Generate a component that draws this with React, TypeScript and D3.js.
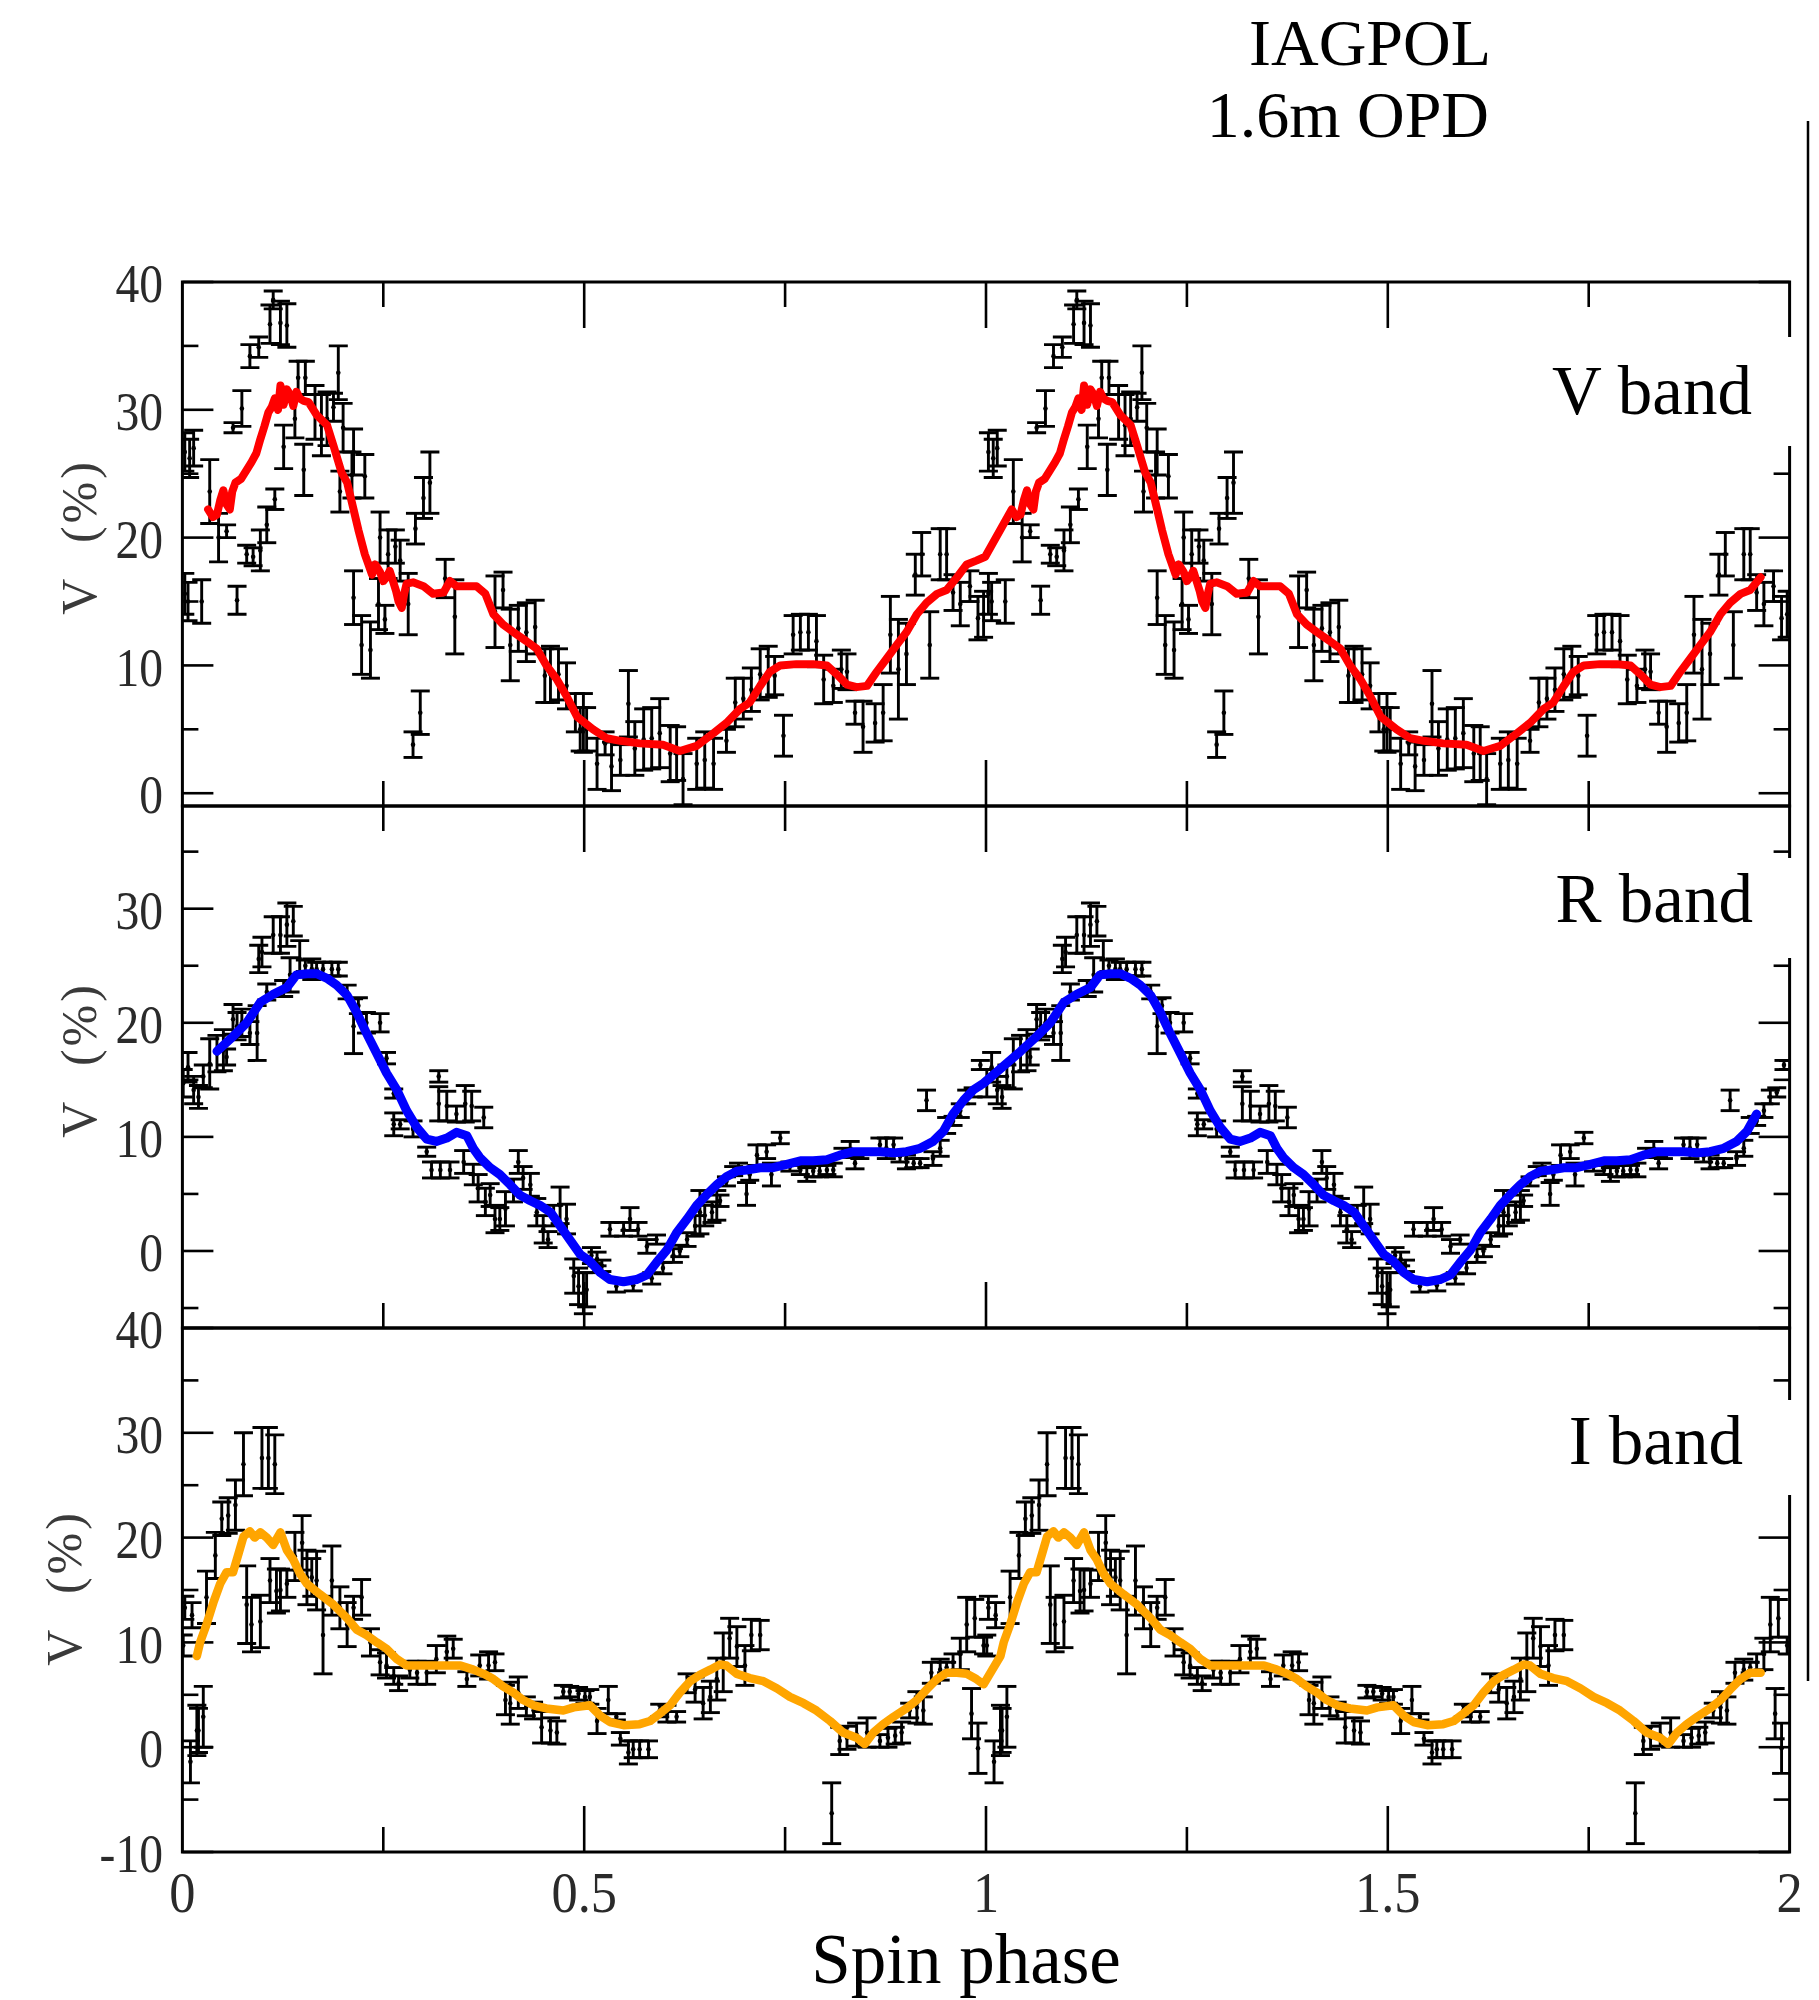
import React from 'react';
import * as d3 from 'd3';

// ---------- DATA (phase, value, error) for one spin cycle; plotted twice ----------
const vBandPoints: [number, number, number][] = [
  [0.003,26.7,1.5],[0.009,26.2,1.5],[0.014,27.0,1.4],[0.003,15.6,1.6],[0.007,15.0,1.5],[0.024,15.0,1.7],
  [0.034,23.6,2.5],[0.045,20.0,1.9],[0.055,20.5,0.5],[0.063,28.6,0.4],[0.068,15.1,1.1],[0.074,30.1,1.4],
  [0.080,18.7,0.7],[0.084,34.2,0.9],[0.088,18.5,0.7],[0.095,34.9,0.8],[0.097,19.0,1.6],[0.105,21.0,1.4],
  [0.109,36.7,1.5],[0.113,38.6,0.7],[0.115,23.0,0.8],[0.122,36.8,1.7],[0.126,27.1,1.7],[0.130,36.6,1.7],
  [0.140,29.3,1.5],[0.144,32.5,1.3],[0.151,25.3,2.0],[0.153,32.5,1.3],[0.165,29.8,2.1],[0.173,28.8,2.4],
  [0.180,29.3,2.1],[0.188,30.2,1.1],[0.194,32.9,2.1],[0.200,28.6,1.9],[0.196,23.6,1.6],[0.213,26.7,1.8],
  [0.211,24.9,1.8],[0.227,24.8,1.7],[0.213,15.3,2.1],[0.223,11.6,2.3],[0.234,11.2,2.2],[0.246,20.0,2.0],
  [0.244,14.8,2.0],[0.252,13.6,1.1],[0.256,18.7,1.9],[0.265,19.3,1.3],[0.271,18.2,1.6],[0.281,14.8,2.4],
  [0.290,20.7,1.2],[0.296,6.3,1.7],[0.287,3.8,1.0],[0.300,23.1,1.6],[0.308,24.3,2.4],[0.327,16.8,1.5],
  [0.339,13.8,2.9],[0.389,14.2,2.8],[0.399,15.9,1.4],[0.408,11.6,2.8],[0.418,12.9,1.8],[0.428,12.6,2.3],
  [0.439,13.0,2.1],[0.451,9.2,2.1],[0.458,9.3,2.2],[0.468,9.3,2.0],[0.478,8.4,1.8],[0.489,6.3,1.5],
  [0.495,5.0,1.7],[0.499,5.5,2.3],[0.503,5.0,1.7],[0.516,2.3,2.0],[0.526,3.9,0.9],[0.534,2.1,1.9],
  [0.545,2.6,1.2],[0.555,7.0,2.6],[0.563,3.5,2.1],[0.574,4.2,2.4],[0.584,4.3,2.4],[0.594,4.7,2.7],
  [0.607,3.1,2.2],[0.615,3.1,2.1],[0.623,1.1,2.0],[0.640,2.3,2.0],[0.650,2.6,2.2],[0.661,2.3,2.0],
  [0.677,4.1,0.9],[0.688,7.1,1.9],[0.698,7.4,1.6],[0.708,8.1,1.7],[0.719,9.3,2.0],[0.729,9.5,2.0],
  [0.737,9.2,1.5],[0.748,4.5,1.6],[0.760,12.4,1.5],[0.769,12.6,1.4],[0.779,12.6,1.4],[0.789,11.9,2.0],
  [0.798,8.9,1.9],[0.810,8.4,1.3],[0.820,9.7,1.5],[0.827,9.5,1.4],[0.837,6.3,0.9],[0.847,5.2,2.0],
  [0.862,5.5,1.5],[0.872,6.3,2.2],[0.881,12.4,3.0],[0.891,9.7,3.9],[0.901,10.9,2.4],[0.930,11.6,2.6],
  [0.912,17.1,1.6],[0.920,18.7,1.7],[0.943,18.7,2.0],[0.951,18.7,2.0],[0.959,15.7,1.4],[0.968,14.8,1.7],
  [0.980,16.2,1.2],[0.990,13.7,1.7],[0.997,14.0,1.8],
];

const vBandCurve: [number, number][] = [
  [0.032,22.2],[0.038,21.6],[0.043,21.8],[0.047,22.9],[0.051,23.7],[0.055,22.6],[0.059,22.2],[0.062,23.6],
  [0.066,24.3],[0.073,24.6],[0.080,25.3],[0.086,25.9],[0.092,26.6],[0.097,27.7],[0.102,28.7],[0.107,29.8],
  [0.111,30.2],[0.115,30.9],[0.119,30.0],[0.122,31.9],[0.126,30.4],[0.130,31.6],[0.134,31.2],[0.138,30.3],
  [0.142,31.4],[0.146,30.9],[0.151,30.7],[0.157,30.6],[0.167,29.6],[0.180,28.8],[0.188,27.2],[0.198,25.1],
  [0.205,24.3],[0.213,22.2],[0.219,20.6],[0.227,18.7],[0.236,17.1],[0.240,17.9],[0.246,17.3],[0.250,16.6],
  [0.254,16.9],[0.258,17.4],[0.263,16.4],[0.266,15.8],[0.269,15.0],[0.273,14.5],[0.276,15.6],[0.279,16.4],
  [0.287,16.5],[0.300,16.2],[0.312,15.6],[0.325,15.7],[0.333,16.6],[0.341,16.2],[0.354,16.2],[0.366,16.2],
  [0.377,15.6],[0.387,14.0],[0.399,13.2],[0.412,12.6],[0.428,11.9],[0.441,11.3],[0.453,10.0],[0.466,8.9],
  [0.478,7.6],[0.491,6.0],[0.511,5.0],[0.528,4.3],[0.545,4.1],[0.569,3.9],[0.598,3.8],[0.619,3.3],
  [0.640,3.7],[0.661,4.7],[0.677,5.5],[0.694,6.6],[0.706,7.1],[0.719,8.4],[0.731,9.5],[0.744,10.0],
  [0.764,10.1],[0.785,10.1],[0.802,10.0],[0.816,9.2],[0.827,8.5],[0.839,8.3],[0.852,8.4],[0.864,9.5],
  [0.876,10.5],[0.889,11.6],[0.901,12.6],[0.914,14.0],[0.926,14.9],[0.939,15.6],[0.951,15.9],[0.964,16.9],
  [0.976,17.9],[0.988,18.2],[0.999,18.5],
];

const rBandPoints: [number, number, number][] = [
  [0.001,14.7,1.2],[0.007,16.1,1.3],[0.014,14.1,1.2],[0.020,13.5,1.0],[0.026,15.3,1.0],[0.034,16.4,2.2],
  [0.043,17.3,1.6],[0.051,17.6,1.8],[0.055,17.0,0.7],[0.063,20.3,1.3],[0.068,19.7,1.2],[0.074,20.0,1.2],
  [0.084,19.1,1.0],[0.093,19.1,2.4],[0.095,25.6,1.2],[0.099,26.2,1.3],[0.105,22.7,0.7],[0.113,27.7,1.6],
  [0.122,27.7,1.6],[0.126,23.0,0.7],[0.130,28.6,1.9],[0.138,28.9,1.3],[0.134,24.2,1.5],[0.146,25.6,1.6],
  [0.153,25.0,0.5],[0.161,24.7,0.9],[0.167,24.7,0.6],[0.175,24.7,0.6],[0.186,24.7,0.6],[0.194,24.7,0.6],
  [0.205,22.7,0.6],[0.213,19.7,2.4],[0.219,21.5,0.7],[0.229,20.0,0.9],[0.246,20.0,0.8],[0.254,16.9,0.5],
  [0.263,13.8,0.4],[0.263,11.1,1.0],[0.271,11.1,0.4],[0.287,10.7,0.7],[0.304,8.7,0.4],[0.310,7.1,0.7],
  [0.319,15.3,0.5],[0.319,12.9,1.5],[0.321,7.1,0.7],[0.329,12.7,1.3],[0.333,7.1,0.7],[0.341,12.0,0.7],
  [0.350,7.8,1.0],[0.352,12.9,1.6],[0.360,12.7,1.3],[0.362,6.7,0.9],[0.368,5.5,1.2],[0.375,11.7,0.9],
  [0.377,4.3,1.2],[0.383,4.9,1.0],[0.389,2.8,1.2],[0.395,2.8,1.0],[0.402,3.7,1.5],[0.412,5.3,1.0],
  [0.418,7.8,1.0],[0.424,6.4,1.0],[0.433,5.8,1.0],[0.441,3.4,1.2],[0.449,1.9,1.2],[0.455,1.0,0.7],
  [0.462,3.1,0.9],[0.470,4.0,1.6],[0.478,2.8,1.3],[0.487,-2.2,1.5],[0.493,-3.1,1.6],[0.499,-3.7,1.8],
  [0.503,-3.4,1.5],[0.509,-0.4,0.7],[0.516,-0.7,0.6],[0.522,-1.3,0.5],[0.532,1.9,0.6],[0.540,-3.1,0.5],
  [0.549,1.9,0.6],[0.557,2.8,1.0],[0.561,-3.0,0.5],[0.567,1.9,0.6],[0.578,0.4,0.6],[0.584,-2.4,0.5],
  [0.590,1.0,0.4],[0.598,-1.5,0.5],[0.611,-0.4,0.6],[0.619,0.0,0.5],[0.628,1.0,0.6],[0.638,2.2,0.9],
  [0.644,3.4,1.9],[0.650,3.1,0.9],[0.659,3.4,0.9],[0.665,4.0,1.3],[0.669,4.4,0.5],[0.677,6.1,0.4],
  [0.686,7.0,0.4],[0.692,7.3,0.4],[0.702,5.0,1.0],[0.706,6.7,0.5],[0.715,8.4,0.9],[0.727,8.7,0.6],
  [0.733,6.7,1.0],[0.744,9.9,0.5],[0.756,7.4,0.4],[0.769,7.1,0.4],[0.777,6.7,0.6],[0.785,7.0,0.5],
  [0.793,7.0,0.5],[0.802,7.1,0.4],[0.810,7.1,0.6],[0.822,8.7,0.3],[0.831,8.9,0.7],[0.837,7.7,0.5],
  [0.843,8.4,0.3],[0.868,9.3,0.6],[0.876,9.0,0.9],[0.885,9.3,0.6],[0.893,8.3,0.5],[0.901,7.8,0.6],
  [0.910,7.7,0.4],[0.918,7.7,0.4],[0.926,13.2,0.9],[0.934,8.1,0.6],[0.943,9.0,0.7],[0.951,11.0,0.7],
  [0.959,11.4,0.4],[0.968,12.3,0.6],[0.976,13.5,0.6],[0.984,13.9,0.4],[0.993,16.3,0.4],
];

const rBandCurve: [number, number][] = [
  [0.043,17.5],[0.063,18.8],[0.080,20.0],[0.097,21.8],[0.113,22.5],[0.130,23.1],[0.142,24.2],[0.155,24.3],
  [0.167,24.3],[0.180,23.9],[0.192,23.3],[0.205,22.4],[0.217,20.9],[0.229,19.1],[0.242,17.3],[0.254,15.6],
  [0.267,14.1],[0.279,12.3],[0.292,10.8],[0.304,9.8],[0.316,9.6],[0.329,9.9],[0.341,10.4],[0.354,10.1],
  [0.362,9.0],[0.370,8.2],[0.383,7.3],[0.395,6.7],[0.408,5.8],[0.420,4.9],[0.433,4.4],[0.445,4.0],
  [0.458,3.4],[0.470,2.2],[0.482,1.0],[0.495,-0.3],[0.507,-0.9],[0.520,-1.9],[0.532,-2.5],[0.549,-2.7],
  [0.565,-2.5],[0.578,-2.1],[0.590,-1.0],[0.603,0.1],[0.615,1.6],[0.628,2.8],[0.640,4.0],[0.652,4.9],
  [0.665,5.8],[0.677,6.5],[0.690,7.0],[0.702,7.1],[0.719,7.3],[0.735,7.3],[0.752,7.6],[0.769,7.9],
  [0.785,7.9],[0.802,8.0],[0.818,8.4],[0.835,8.7],[0.852,8.7],[0.868,8.7],[0.885,8.6],[0.901,8.7],
  [0.918,9.0],[0.934,9.6],[0.947,10.5],[0.959,12.0],[0.972,13.2],[0.984,14.1],[0.997,14.7],
];

const iBandPoints: [number, number, number][] = [
  [0.001,9.7,1.0],[0.003,13.3,1.1],[0.012,12.6,1.2],[0.010,-1.4,2.0],[0.018,1.6,2.4],[0.020,1.6,2.1],
  [0.026,2.9,2.9],[0.030,14.3,2.5],[0.041,18.3,2.2],[0.049,21.8,1.6],[0.057,22.1,1.7],[0.066,23.1,2.4],
  [0.076,27.0,3.0],[0.080,13.6,3.7],[0.086,11.7,2.6],[0.097,12.0,2.5],[0.099,27.6,2.9],[0.107,27.6,2.9],
  [0.115,27.0,2.8],[0.109,15.9,2.1],[0.117,14.9,2.1],[0.122,15.0,2.0],[0.130,15.6,1.3],[0.140,18.2,2.3],
  [0.149,19.5,2.6],[0.155,16.2,2.6],[0.161,16.2,1.8],[0.167,15.9,2.8],[0.175,10.7,3.7],[0.186,15.9,3.3],
  [0.196,13.3,2.0],[0.205,11.7,2.1],[0.213,13.3,1.1],[0.223,14.3,1.7],[0.234,10.0,1.3],[0.246,8.1,1.2],
  [0.254,7.8,1.2],[0.263,6.8,0.8],[0.269,6.1,0.7],[0.283,7.4,0.8],[0.292,7.1,1.1],[0.304,7.1,1.1],
  [0.316,8.4,1.3],[0.329,9.1,1.5],[0.337,9.4,0.9],[0.354,6.5,0.7],[0.370,7.8,1.0],[0.381,7.8,1.3],
  [0.389,8.1,0.8],[0.402,4.5,1.4],[0.408,4.2,2.0],[0.418,5.2,1.5],[0.428,3.9,0.9],[0.437,3.5,0.8],
  [0.447,1.9,1.5],[0.458,1.6,1.2],[0.466,1.4,1.1],[0.474,5.3,0.6],[0.482,5.3,0.5],[0.493,5.1,0.6],
  [0.501,4.8,0.6],[0.507,4.8,0.7],[0.516,2.5,1.2],[0.530,4.5,1.3],[0.540,2.9,0.3],[0.545,0.8,0.6],
  [0.555,-0.5,1.1],[0.561,-0.2,0.8],[0.569,-0.2,0.8],[0.580,-0.2,0.8],[0.594,3.5,0.6],[0.603,3.2,0.8],
  [0.615,2.9,0.5],[0.628,6.1,0.9],[0.638,5.5,1.2],[0.648,4.2,1.5],[0.657,4.8,1.5],[0.665,6.5,2.0],
  [0.673,8.1,2.8],[0.681,10.4,1.9],[0.690,9.6,1.9],[0.700,7.8,1.9],[0.708,10.7,1.5],[0.719,10.7,1.4],
  [0.808,-6.3,2.9],[0.818,0.6,1.3],[0.827,0.9,1.1],[0.839,1.2,1.1],[0.852,1.4,1.4],[0.868,0.6,0.6],
  [0.878,0.9,0.9],[0.887,1.1,0.8],[0.895,1.4,1.0],[0.905,3.5,0.7],[0.914,3.8,1.5],[0.922,3.5,1.3],
  [0.932,7.1,1.0],[0.943,7.4,1.0],[0.951,7.6,0.5],[0.959,8.1,0.8],[0.968,8.9,1.5],[0.976,11.7,2.6],
  [0.982,3.2,2.4],[0.986,12.3,1.8],[0.990,-0.1,2.4],[0.997,9.7,0.8],
];

const iBandCurve: [number, number][] = [
  [0.018,8.7],[0.022,10.0],[0.030,11.7],[0.039,13.9],[0.047,15.6],[0.055,16.7],[0.063,16.7],[0.070,18.5],
  [0.076,20.1],[0.084,20.6],[0.090,20.0],[0.097,20.5],[0.105,20.0],[0.113,19.3],[0.122,20.5],[0.130,18.8],
  [0.138,17.9],[0.146,16.6],[0.155,15.6],[0.171,14.6],[0.188,13.6],[0.205,12.3],[0.217,11.2],[0.229,10.7],
  [0.242,10.0],[0.254,9.4],[0.267,8.4],[0.279,7.8],[0.296,7.8],[0.321,7.8],[0.346,7.8],[0.362,7.4],
  [0.375,7.0],[0.387,6.5],[0.399,5.8],[0.412,5.2],[0.424,4.5],[0.437,4.0],[0.453,3.7],[0.474,3.5],
  [0.487,3.8],[0.507,4.0],[0.520,3.0],[0.532,2.4],[0.549,2.1],[0.569,2.2],[0.582,2.5],[0.594,3.2],
  [0.607,4.0],[0.619,5.2],[0.632,6.3],[0.644,6.9],[0.657,7.4],[0.669,7.9],[0.677,7.8],[0.690,7.0],
  [0.706,6.6],[0.723,6.3],[0.740,5.6],[0.756,4.8],[0.773,4.2],[0.789,3.5],[0.806,2.5],[0.822,1.4],
  [0.839,0.9],[0.849,0.3],[0.860,1.4],[0.872,2.2],[0.885,2.9],[0.901,3.7],[0.914,4.5],[0.926,5.5],
  [0.939,6.5],[0.951,7.1],[0.964,7.1],[0.976,7.0],[0.988,6.5],[0.997,6.0],
];

const xTickValues = [0, 0.5, 1, 1.5, 2];
const xTickLabels = ['0', '0.5', '1', '1.5', '2'];
const vTickLabels = [40, 30, 20, 10, 0];
const rTickLabels = [30, 20, 10, 0];
const iTickLabels = [40, 30, 20, 10, 0, -10];
const cycleOffsets = [0, 1];
const bandNames = ['V band', 'R band', 'I band'];
const titleLines = ['IAGPOL', '1.6m OPD'];
const xTitle = 'Spin phase';
const yTitle = 'V (%)';

const FONT = '"Liberation Serif", "Times New Roman", serif';

export default function App() {
  const W = 1819, H = 2000;
  const X0 = 182.4, X1 = 1789.6;
  const x = d3.scaleLinear().domain([0, 2]).range([X0, X1]);

  const panels = [
    { key: 'v', points: vBandPoints, curve: vBandCurve, color: '#ff0000', domain: [-1, 40], top: 282, bottom: 806,
      labels: vTickLabels, curveEnd: 0.965, topTicks: true, yLabelX: 96, yLabelY: 537, name: bandNames[0],
      nameX: 1752, nameY: 414, box: [1535, 337, 270, 109], curveW: 8 },
    { key: 'r', points: rBandPoints, curve: rBandCurve, color: '#0000ff', domain: [-6.75, 39.0], top: 806, bottom: 1328,
      labels: rTickLabels, curveEnd: 0.96, topTicks: true, yLabelX: 96, yLabelY: 1060, name: bandNames[1],
      nameX: 1753, nameY: 922, box: [1535, 858, 270, 100], curveW: 9 },
    { key: 'i', points: iBandPoints, curve: iBandCurve, color: '#ffa500', domain: [-10, 40], top: 1328, bottom: 1852,
      labels: iTickLabels, curveEnd: 0.97, topTicks: false, yLabelX: 81, yLabelY: 1588, name: bandNames[2],
      nameX: 1743, nameY: 1464, box: [1545, 1400, 260, 95], curveW: 8.5 },
  ];

  const xMinor = d3.range(0.25, 2, 0.25);

  return (
    <svg width={W} height={H} style={{ display: 'block', position: 'absolute', left: 0, top: 0, background: '#fff' }}
      xmlns="http://www.w3.org/2000/svg">
      <rect x={0} y={0} width={W} height={H} fill="#fff" />
      <defs>
        {panels.map((p) => (
          <clipPath id={`clip-${p.key}`} key={p.key}>
            <rect x={X0} y={p.top} width={X1 - X0} height={p.bottom - p.top} />
          </clipPath>
        ))}
      </defs>

      {panels.map((p) => {
        const y = d3.scaleLinear().domain(p.domain).range([p.bottom, p.top]);
        const yTicks = d3.range(Math.ceil(p.domain[0] / 5) * 5, p.domain[1] + 0.001, 5);
        const line = d3.line<[number, number]>().x((d) => x(d[0])).y((d) => y(d[1]));
        const curveData: [number, number][] = [];
        cycleOffsets.forEach((c) => {
          p.curve.forEach((d) => {
            if (c === 0 || d[0] <= p.curveEnd) curveData.push([d[0] + c, d[1]]);
          });
        });
        return (
          <g key={p.key}>
            <g stroke="#000" strokeWidth={2.6}>
              {yTicks.map((t) => {
                const major = Math.abs(t % 10) < 1e-6;
                const L = major ? 31 : 16;
                return (
                  <g key={`yt${t}`}>
                    <line x1={X0} x2={X0 + L} y1={y(t)} y2={y(t)} />
                    <line x1={X1} x2={X1 - L} y1={y(t)} y2={y(t)} />
                  </g>
                );
              })}
              {xMinor.map((t) => {
                const major = Math.abs((t * 2) % 1) < 1e-6;
                const L = major ? 46 : 25;
                return (
                  <g key={`xt${t}`}>
                    {p.topTicks && <line x1={x(t)} x2={x(t)} y1={p.top} y2={p.top + L} />}
                    <line x1={x(t)} x2={x(t)} y1={p.bottom} y2={p.bottom - L} />
                  </g>
                );
              })}
            </g>

            <g clipPath={`url(#clip-${p.key})`} stroke="#000" strokeWidth={2.9}>
              {cycleOffsets.map((c) =>
                p.points.map((d, i) => {
                  const px = x(d[0] + c);
                  const yTop = y(d[1] + d[2]);
                  const yBot = y(d[1] - d[2]);
                  return (
                    <g key={`${c}-${i}`}>
                      <line x1={px} x2={px} y1={yTop} y2={yBot} />
                      <line x1={px - 9.5} x2={px + 9.5} y1={yTop} y2={yTop} />
                      <line x1={px - 9.5} x2={px + 9.5} y1={yBot} y2={yBot} />
                      <circle cx={px} cy={y(d[1])} r={2.3} fill="#000" stroke="none" />
                    </g>
                  );
                })
              )}
            </g>

            <path d={line(curveData) || ''} fill="none" stroke={p.color} strokeWidth={p.curveW}
              strokeLinejoin="round" strokeLinecap="round" clipPath={`url(#clip-${p.key})`} />

            {p.labels.map((t) => (
              <text key={`yl${t}`} transform={`translate(163, ${y(t)}) scale(0.85, 1)`} textAnchor="end"
                dy="0.36em" fontFamily={FONT} fontSize={56} fill="#2a2a2a">{t}</text>
            ))}

            <text transform={`translate(${p.yLabelX}, ${p.yLabelY}) rotate(-90)`} textAnchor="middle"
              fontFamily={FONT} fontSize={50} letterSpacing={3} wordSpacing={18} fill="#3a3a3a">{yTitle}</text>
          </g>
        );
      })}

      {panels.map((p) => (
        <rect key={`f${p.key}`} x={X0} y={p.top} width={X1 - X0} height={p.bottom - p.top}
          fill="none" stroke="#000" strokeWidth={3} />
      ))}

      {panels.map((p) => (
        <g key={`n${p.key}`}>
          <rect x={p.box[0]} y={p.box[1]} width={p.box[2]} height={p.box[3]} fill="#fff" />
          <text x={p.nameX} y={p.nameY} textAnchor="end" fontFamily={FONT} fontSize={69} fill="#000">{p.name}</text>
        </g>
      ))}

      {xTickValues.map((t, i) => (
        <text key={`xl${t}`} transform={`translate(${x(t)}, 1912) scale(0.92, 1)`} textAnchor="middle"
          fontFamily={FONT} fontSize={57} fill="#2a2a2a">{xTickLabels[i]}</text>
      ))}

      <text x={966} y={1983} textAnchor="middle" fontFamily={FONT} fontSize={71} fill="#000">{xTitle}</text>

      <text x={1491} y={65} textAnchor="end" fontFamily={FONT} fontSize={66} fill="#000">{titleLines[0]}</text>
      <text x={1489} y={137} textAnchor="end" fontFamily={FONT} fontSize={66} fill="#000">{titleLines[1]}</text>

      <line x1={1808} x2={1808} y1={121} y2={1681} stroke="#000" strokeWidth={2.5} />
    </svg>
  );
}
